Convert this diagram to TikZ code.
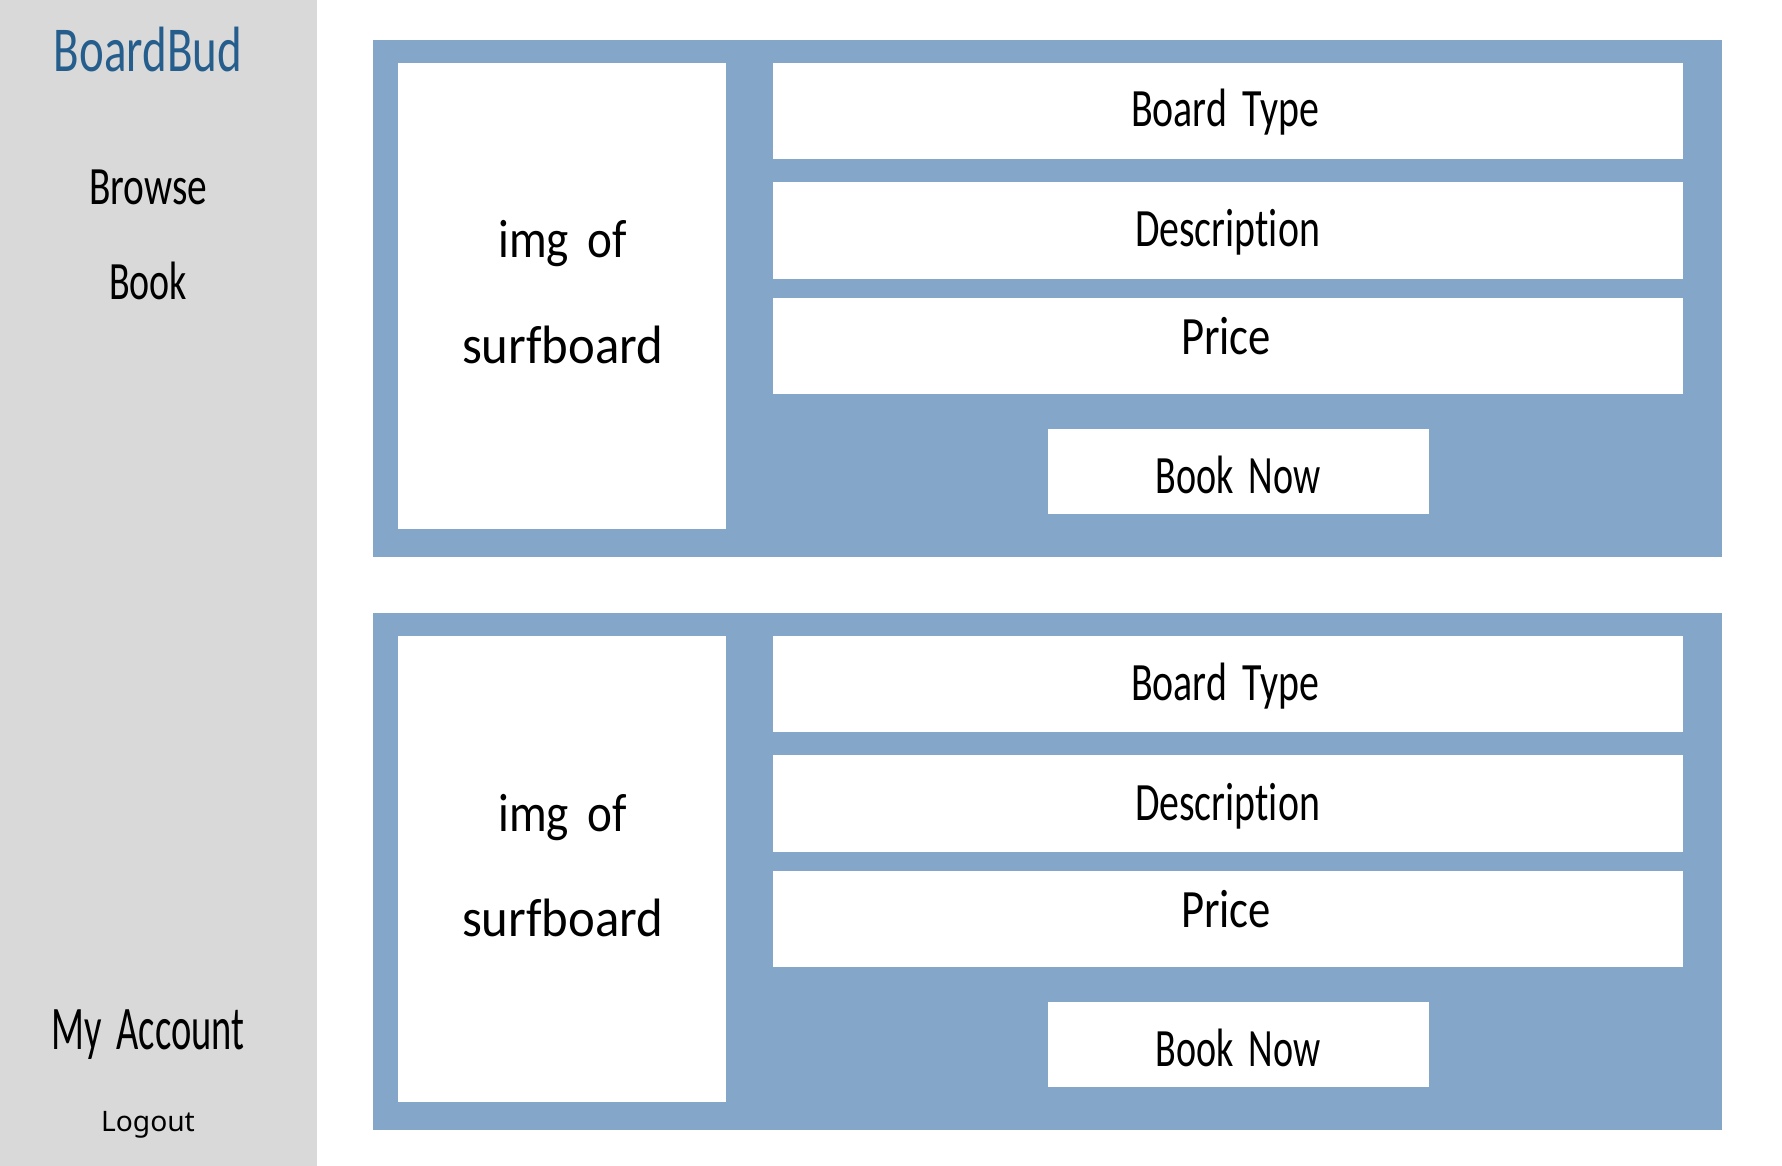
\documentclass[tikz,border=0pt]{standalone}
\usepackage{fontspec}
\setmainfont{Noto Sans}
\newfontfamily\handfont[FakeStretch=0.8,Ligatures=NoCommon,WordSpace=1.7]{Carlito}
\definecolor{panelblue}{HTML}{83A6C9}
\definecolor{sidegrey}{HTML}{D9D9D9}
\definecolor{brandblue}{HTML}{255E8C}
\newcommand{\handtext}[2]{\resizebox{#1pt}{\height}{\handfont #2}}
\tikzset{
  box/.style={fill=white,draw=none,inner sep=0pt,outer sep=0pt,anchor=north west},
  hand/.style={inner sep=0pt,outer sep=0pt,anchor=base,text=black,font=\fontsize{54}{60}\selectfont},
}
\newcommand{\boardpanel}[2]{%
  \node[fill=panelblue,inner sep=0pt,anchor=north west,minimum width=1349pt,minimum height=517pt] (panel#1) at (373,40+#2) {};
  \node[box,minimum width=328pt,minimum height=466pt] (img#1) at (398,63+#2) {};
  \node[box,minimum width=910pt,minimum height=96pt] (type#1) at (773,63+#2) {};
  \node[box,minimum width=910pt,minimum height=97pt] (desc#1) at (773,182+#2) {};
  \node[box,minimum width=910pt,minimum height=96pt] (price#1) at (773,298+#2) {};
  \node[box,minimum width=381pt,minimum height=84.5pt] (book#1) at (1048,429+#2) {};
  \node[hand] (imgtop#1) at (562.5,258+#2) {\handtext{128}{img of}};
  \node[hand] (imgbot#1) at (562.5,363+#2) {\handtext{201}{surfboard}};
  \node[hand] (typet#1) at (1225,127+#2) {\handtext{188}{Board Type}};
  \node[hand] (desct#1) at (1227.5,247+#2) {\handtext{185}{Description}};
  \node[hand] (pricet#1) at (1226,354+#2) {\handtext{90}{Price}};
  \node[hand] (bookt#1) at (1238,493+#2) {\handtext{164.5}{Book Now}};
}
\begin{document}
\begin{tikzpicture}[x=1pt,y=-1pt]
\useasboundingbox (0,0) rectangle (1782,1166);
\fill[white] (0,0) rectangle (1782,1166);
\node[fill=sidegrey,inner sep=0pt,anchor=north west,minimum width=316.5pt,minimum height=1166pt] (sidebar) at (0,0) {};
\node[hand,text=brandblue,font=\fontsize{64}{70}\selectfont] (brand) at (148,72) {\handtext{188}{BoardBud}};
\node[hand] (browse) at (148,205) {\handtext{118}{Browse}};
\node[hand] (booknav) at (148,299) {\handtext{78}{Book}};
\node[hand,font=\fontsize{62}{68}\selectfont] (account) at (148,1049) {\handtext{193}{My Account}};
\node[inner sep=0pt,anchor=base,font=\fontsize{28.2}{32}\selectfont] (logout) at (148,1131) {Logout};
\boardpanel{a}{0}
\boardpanel{b}{573}
\end{tikzpicture}
\end{document}
